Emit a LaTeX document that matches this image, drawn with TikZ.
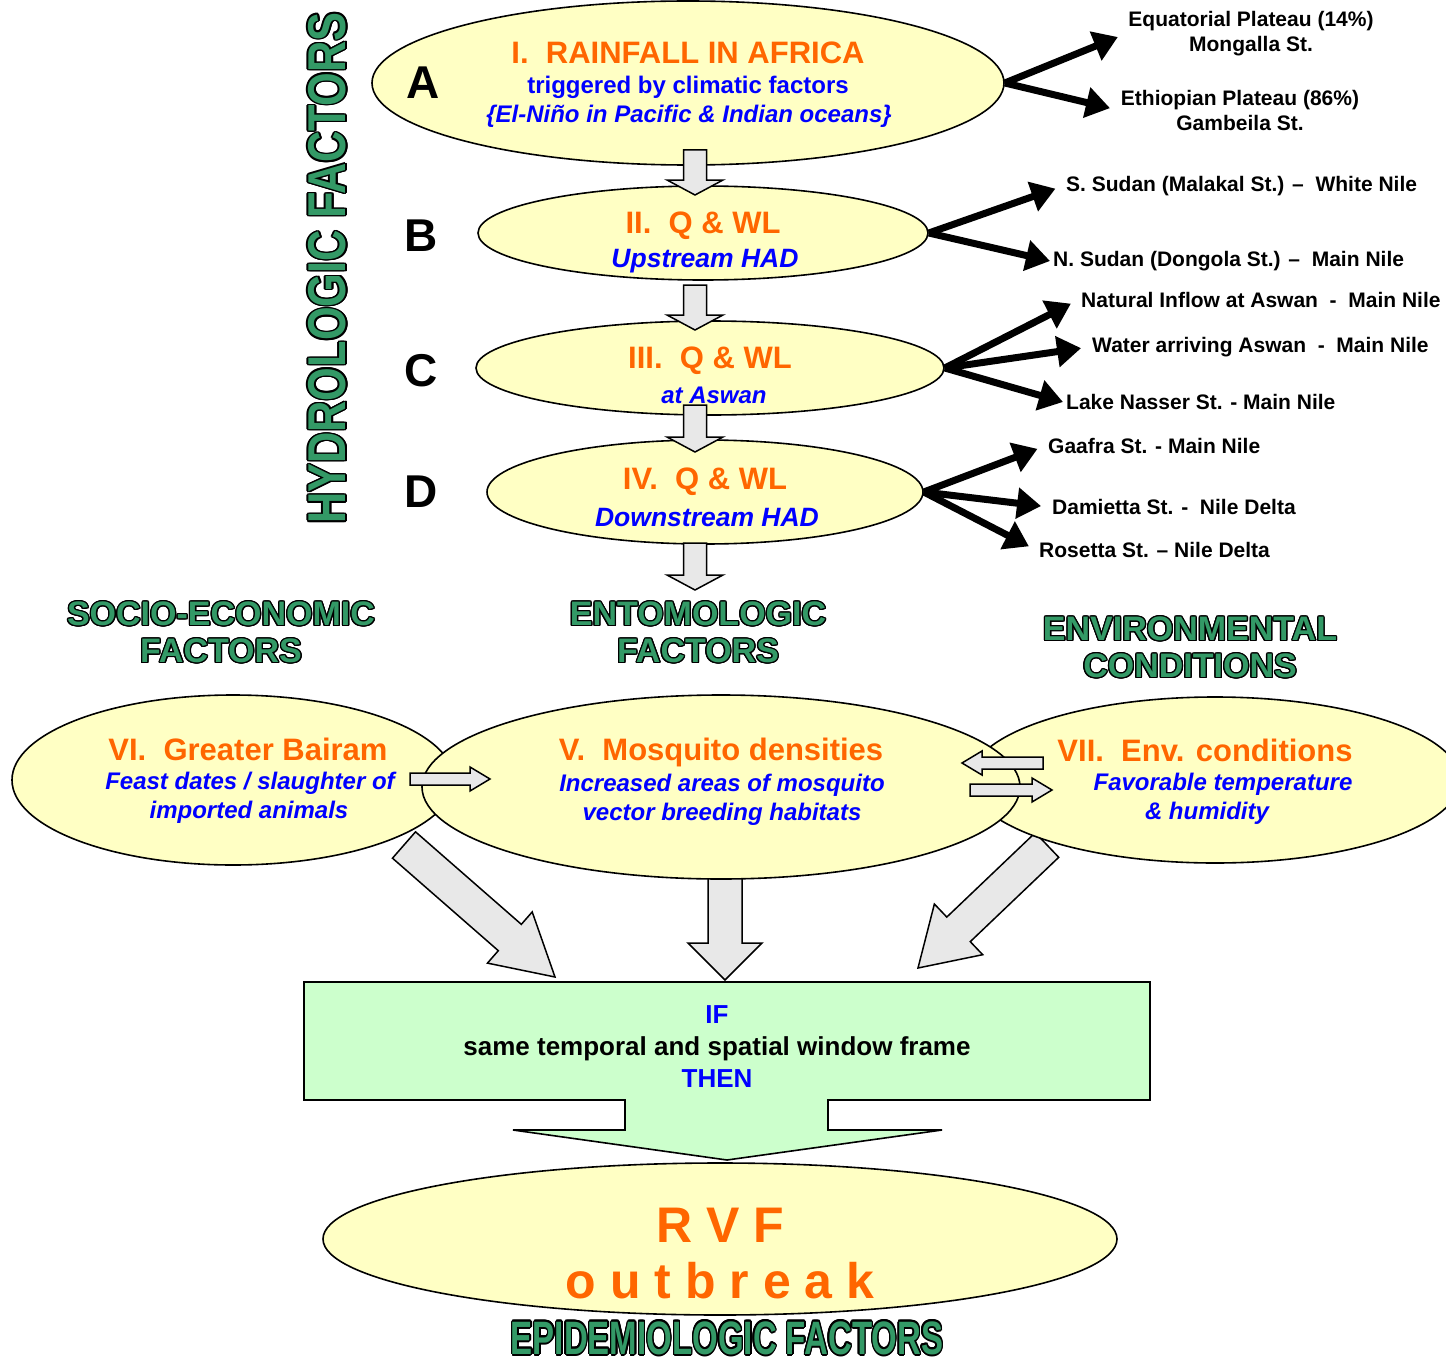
\documentclass[tikz,border=0pt]{standalone}
\usepackage{fontspec}
\setmainfont{Liberation Sans}
\usepackage[copies]{contour}
\usepackage{graphicx}
\usetikzlibrary{arrows.meta, calc, shapes.geometric}
\definecolor{rvforange}{HTML}{FF6600}
\definecolor{rvfblue}{HTML}{0000FF}
\definecolor{hgreen}{HTML}{339966}
\definecolor{ellyel}{HTML}{FFFFC4}
\definecolor{boxgreen}{HTML}{CCFFCC}
\contourlength{1.3pt}
\newcommand{\fsz}[1]{\fontsize{#1}{#1}\selectfont}
\newcommand{\outl}[1]{{\color{hgreen}\contour{black}{#1}}}
% block arrow: tail, tip, shaft half width, head half width, head length
\newcommand{\fatarrow}[5]{%
  \coordinate (fa) at ($(#2)!#5!(#1)$);
  \draw[fat] ($(#1)!#3!90:(#2)$) -- ($(fa)!#3!90:(#2)$) -- ($(fa)!#4!90:(#2)$) -- (#2)
    -- ($(fa)!#4!-90:(#2)$) -- ($(fa)!#3!-90:(#2)$) -- ($(#1)!#3!-90:(#2)$) -- cycle;}

\begin{document}
\begin{tikzpicture}[x=1pt,y=-1pt,
  ell/.style={ellipse,draw=black,line width=1.6pt,fill=ellyel,inner sep=0pt},
  ttl/.style={text=rvforange,font=\fsz{31}\bfseries},
  subt/.style={text=rvfblue,font=\fsz{24}\bfseries\itshape},
  abcd/.style={font=\fsz{46}\bfseries},
  lbl/.style={font=\fontsize{21}{25}\selectfont\bfseries,anchor=west,inner sep=3pt},
  hd/.style={font=\fontsize{34}{37}\selectfont\bfseries,align=center},
  blk/.style={-{Triangle[length=24pt,width=30pt]},line width=7pt,shorten >=8pt},
  fat/.style={draw=black,line width=1.5pt,fill=gray!18}]
\useasboundingbox (0,0) rectangle (1446,1362);

% big arrows to the box (behind the ellipses)
\coordinate (b1a) at (404,845); \coordinate (b1b) at (555,977);
\coordinate (b2a) at (725,870); \coordinate (b2b) at (725,980);
\coordinate (b3a) at (1047,845); \coordinate (b3b) at (918,968);
\fatarrow{b1a}{b1b}{17.5pt}{34pt}{60pt}
\fatarrow{b2a}{b2b}{17pt}{37pt}{37pt}
\fatarrow{b3a}{b3b}{17pt}{35pt}{56pt}

% hydrologic chain
\node[ell,minimum width=632pt,minimum height=164pt] (ra) at (688,83) {};
\node[ell,minimum width=450pt,minimum height=94pt] (rb) at (703,233) {};
\node[ell,minimum width=468pt,minimum height=94pt] (rc) at (710,368) {};
\node[ell,minimum width=436pt,minimum height=104pt] (rd) at (705,492) {};

\coordinate (g1a) at (695,150); \coordinate (g1b) at (695,195);
\coordinate (g2a) at (695,285); \coordinate (g2b) at (695,330);
\coordinate (g3a) at (695,405); \coordinate (g3b) at (695,452);
\coordinate (g4a) at (695,543); \coordinate (g4b) at (695,590);
\fatarrow{g1a}{g1b}{11.5pt}{28pt}{15pt}
\fatarrow{g2a}{g2b}{11.5pt}{28pt}{15pt}
\fatarrow{g3a}{g3b}{11.5pt}{28pt}{15pt}
\fatarrow{g4a}{g4b}{11.5pt}{28pt}{15pt}

\node[ttl] (ta1) at (688,53) {I.\ \ RAINFALL IN AFRICA};
\node[text=rvfblue,font=\fsz{24}\bfseries] (ta2) at (688,87) {triggered by climatic factors};
\node[subt] (ta3) at (689,116) {\{El-Niño in Pacific \& Indian oceans\}};
\node[ttl] (tb1) at (703,226) {II.\ \ Q \& WL};
\node[subt,font=\fsz{26.5}\bfseries\itshape] (tb2) at (705,261) {Upstream HAD};
\node[ttl] (tc1) at (710,361) {III.\ \ Q \& WL};
\node[subt] (tc2) at (714,395) {at Aswan};
\node[ttl] (td1) at (705,482) {IV.\ \ Q \& WL};
\node[subt,font=\fsz{26.5}\bfseries\itshape] (td2) at (707,518) {Downstream HAD};

\node[abcd] (la) at (423,83) {A};
\node[abcd] (lb) at (421,236) {B};
\node[abcd] (lc) at (421,371) {C};
\node[abcd] (ld) at (421,492) {D};

% stations
\node[lbl,anchor=center,align=center] (eq) at (1251,34) {Equatorial Plateau (14\%)\\Mongalla St.};
\node[lbl,anchor=center,align=center] (et) at (1240,110) {Ethiopian Plateau (86\%)\\Gambeila St.};
\node[lbl] (ss) at (1063,186) {S. Sudan (Malakal St.) –\ \ White Nile};
\node[lbl] (ns) at (1050,261) {N. Sudan (Dongola St.) –\ \ Main Nile};
\node[lbl] (ni) at (1078,300) {Natural Inflow at Aswan\ \ -\ \ Main Nile};
\node[lbl] (wa) at (1089,347) {Water arriving Aswan\ \ -\ \ Main Nile};
\node[lbl] (ln) at (1063,402) {Lake Nasser St. - Main Nile};
\node[lbl] (ga) at (1045,446) {Gaafra St. - Main Nile};
\node[lbl] (da) at (1049,507) {Damietta St. -\ \ Nile Delta};
\node[lbl] (ro) at (1036,550) {Rosetta St. – Nile Delta};

\draw[blk] (ra.east) -- (eq.west);
\draw[blk] (ra.east) -- (et.west);
\draw[blk] (rb.east) -- (ss.west);
\draw[blk,shorten >=0pt] (rb.east) -- (ns.west);
\draw[blk] (rc.east) -- (ni.west);
\draw[blk] (rc.east) -- (wa.west);
\draw[blk,shorten >=0pt] (rc.east) -- (ln.west);
\draw[blk] (rd.east) -- (ga.west);
\draw[blk] (rd.east) -- (da.west);
\draw[blk] (rd.east) -- (ro.west);

% headings
\node[rotate=90,font=\fsz{43.3}\bfseries] (hyd) at (328,268) {\scalebox{1}[1.23]{\outl{HYDROLOGIC FACTORS}}};
\node[hd] (hsoc) at (221,633) {\outl{SOCIO-ECONOMIC}\\\outl{FACTORS}};
\node[hd] (hent) at (698,633) {\outl{ENTOMOLOGIC}\\\outl{FACTORS}};
\node[hd] (henv) at (1190,648) {\outl{ENVIRONMENTAL}\\\outl{CONDITIONS}};

% factor ellipses
\node[ell,minimum width=442pt,minimum height=170pt] (r6) at (233,780) {};
\node[ell,minimum width=490pt,minimum height=166pt] (r7) at (1215,780) {};
\node[ell,minimum width=598pt,minimum height=184pt] (r5) at (721,787) {};

\node[ttl] (t61) at (248,749) {VI.\ \ Greater Bairam};
\node[subt] (t62) at (250,783) {Feast dates / slaughter of};
\node[subt] (t63) at (249,812) {imported animals};
\node[ttl] (t51) at (721,752) {V.\ \ Mosquito densities};
\node[subt] (t52) at (722,785) {Increased areas of mosquito};
\node[subt] (t53) at (722,814) {vector breeding habitats};
\node[ttl] (t71) at (1205,750) {VII.\ \ Env. conditions};
\node[subt] (t72) at (1223,784) {Favorable temperature};
\node[subt] (t73) at (1207,813) {\& humidity};

\coordinate (s1a) at (410,779); \coordinate (s1b) at (490,779);
\coordinate (s2a) at (1043,763); \coordinate (s2b) at (962,763);
\coordinate (s3a) at (970,790); \coordinate (s3b) at (1052,790);
\fatarrow{s1a}{s1b}{6pt}{12pt}{20pt}
\fatarrow{s2a}{s2b}{6pt}{12pt}{20pt}
\fatarrow{s3a}{s3b}{6pt}{12pt}{20pt}

% condition box and outbreak
\node[ell,minimum width=794pt,minimum height=152pt] (rvf) at (720,1239) {};
\draw[fill=boxgreen,line width=1.6pt] (304,982) -- (1150,982) -- (1150,1100) -- (828,1100)
  -- (828,1130) -- (942,1130) -- (727,1160) -- (513,1130) -- (625,1130) -- (625,1100)
  -- (304,1100) -- cycle;
\node[font=\fontsize{26}{32}\selectfont\bfseries,align=center] (cond) at (717,1047)
  {\textcolor{rvfblue}{IF}\\same temporal and spatial window frame\\\textcolor{rvfblue}{THEN}};
\node[text=rvforange,font=\fsz{50}\bfseries] (rvf1) at (720,1225) {R V F};
\node[text=rvforange,font=\fsz{50}\bfseries] (rvf2) at (720,1281) {o u t b r e a k};
\node[font=\fsz{33}\bfseries] (hepi) at (727,1339) {\scalebox{1}[1.42]{\outl{EPIDEMIOLOGIC FACTORS}}};
\end{tikzpicture}
\end{document}
